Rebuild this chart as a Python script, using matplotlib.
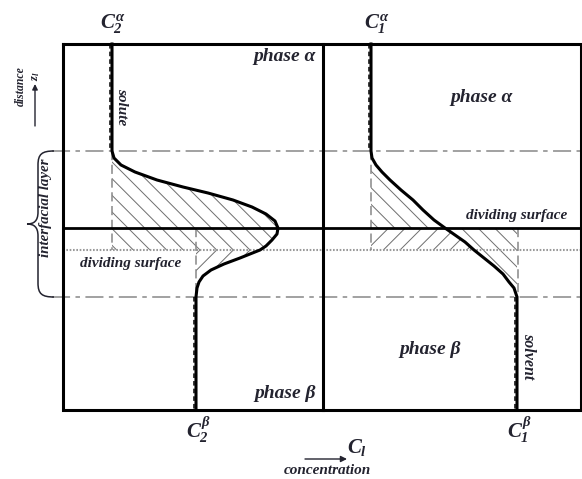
import matplotlib
matplotlib.use('Agg')
import matplotlib.pyplot as plt
from matplotlib.path import Path
from matplotlib.patches import PathPatch

plt.rcParams['mathtext.fontset'] = 'custom'
plt.rcParams['mathtext.it'] = 'Liberation Serif:italic:bold'
plt.rcParams['mathtext.rm'] = 'Liberation Serif:italic:bold'
plt.rcParams['mathtext.bf'] = 'Liberation Serif:italic:bold'
plt.rcParams['mathtext.fallback'] = 'stix'
plt.rcParams['hatch.linewidth'] = 0.7
plt.rcParams['hatch.color'] = '#6e6e6e'

# concentration profiles (depth z, concentration position)
solute_z = [44, 151, 158, 165, 172, 180, 187, 193, 200, 207, 214, 221, 228,
            234, 240, 246, 250, 258, 264, 270, 276, 282, 288, 297, 410]
solute_c = [112, 112, 114, 121, 135, 157, 183, 208, 233, 252, 266, 275, 278,
            277, 272, 266, 260, 240, 224, 211, 203, 199, 197, 196, 196]
solvent_z = [44, 151, 158, 165, 172, 180, 190, 200, 210, 220, 228, 235, 242,
             250, 258, 266, 274, 282, 288, 297, 410]
solvent_c = [371, 371, 372, 376, 382, 390, 401, 413, 423, 434, 445, 455, 465,
             474, 484, 494, 503, 509, 514, 517, 517]

# levels: top of layer, Gibbs surface, dotted surface, bottom of layer
z_top, z_gibbs, z_dot, z_bot = 151, 228, 250, 297
c2_alpha, c2_beta = 112, 196
c1_alpha, c1_beta = 371, 517

ink = '#23232f'

fig = plt.figure(figsize=(5.82, 4.79), dpi=100)
ax = fig.add_axes([0, 0, 1, 1])
ax.set_xlim(0, 582)
ax.set_ylim(479, 0)
ax.axis('off')


def hatch_region(z, c, z0, z1, xv, hatch):
    pts = [(ci, zi) for zi, ci in zip(z, c) if z0 <= zi <= z1]
    poly = pts + [(xv, z1), (xv, z0)]
    ax.fill([p[0] for p in poly], [p[1] for p in poly], facecolor='none',
            edgecolor='#6e6e6e', hatch=hatch, linewidth=0, zorder=1)


# hatched excess areas
hatch_region(solute_z, solute_c, z_top, z_dot, c2_alpha, '\\\\')
hatch_region(solute_z, solute_c, z_dot, z_bot, c2_beta, '//')
hatch_region(solvent_z, solvent_c, z_top, z_gibbs, c1_alpha, '\\\\')
hatch_region(solvent_z, solvent_c, z_gibbs, z_dot, c1_alpha, '//')
hatch_region(solvent_z, solvent_c, z_gibbs, z_bot, c1_beta, '\\\\')

# frame
ax.plot([63, 63, 581, 581, 63], [44, 410, 410, 44, 44], color='black', lw=2.2,
        solid_joinstyle='miter', zorder=5)
ax.plot([323, 323], [44, 410], color='black', lw=2.2, zorder=5)

# horizontal reference lines
for zz in (z_top, z_bot):
    ax.plot([52, 582], [zz, zz], color='#9a9a9a', lw=1.3,
            linestyle=(0, (10, 3, 2.5, 3)), zorder=2)
ax.plot([63, 582], [z_gibbs, z_gibbs], color='black', lw=2.0, zorder=4)
ax.plot([63, 582], [z_dot, z_dot], color='#9a9a9a', lw=1.5,
        linestyle=(0, (0.8, 0.8)), zorder=2)

# dashed reference verticals
for xv, z0, z1 in [(c2_alpha, z_top, z_dot), (c2_beta, z_gibbs, z_bot),
                   (c1_alpha, z_top, z_dot), (c1_beta + 1, z_gibbs, z_bot)]:
    ax.plot([xv, xv], [z0, z1], color='#888888', lw=1.1,
            linestyle=(0, (6, 3)), zorder=2)

# dashed shadows along the bulk segments
for xv, z0, z1 in [(c2_alpha - 2, 44, z_top), (c2_beta - 2, z_bot, 410),
                   (c1_alpha - 2, 44, z_top), (c1_beta - 2, z_bot, 410)]:
    ax.plot([xv, xv], [z0, z1], color='black', lw=1.1,
            linestyle=(0, (3, 2)), zorder=3)

# profiles
ax.plot(solute_c, solute_z, color='black', lw=2.2, zorder=6)
ax.plot(solvent_c, solvent_z, color='black', lw=2.2, zorder=6)

# labels
lab = dict(color=ink, family='Liberation Serif', style='italic', weight='bold')
ax.text(113, 24, r'$C_2^{\alpha}$', fontsize=15, ha='center', va='center', color=ink)
ax.text(377, 24, r'$C_1^{\alpha}$', fontsize=15, ha='center', va='center', color=ink)
ax.text(198, 430, r'$C_2^{\beta}$', fontsize=15, ha='center', va='center', color=ink)
ax.text(519, 430, r'$C_1^{\beta}$', fontsize=15, ha='center', va='center', color=ink)
ax.text(357, 447, r'$C_l$', fontsize=15, ha='center', va='center', color=ink)

ax.text(316, 56, 'phase α', fontsize=14, ha='right', va='center', **lab)
ax.text(316, 393, 'phase β', fontsize=14, ha='right', va='center', **lab)
ax.text(482, 97, 'phase α', fontsize=14, ha='center', va='center', **lab)
ax.text(430, 350, 'phase β', fontsize=14, ha='center', va='center', **lab)

ax.text(131, 263, 'dividing surface', fontsize=11, ha='center', va='center', **lab)
ax.text(517, 216, 'dividing surface', fontsize=11, ha='center', va='center', **lab)
ax.text(122, 107, 'solute', fontsize=11, ha='center', va='center',
        rotation=-90, **lab)
ax.text(528, 356, 'solvent', fontsize=11.5, ha='center', va='center',
        rotation=-90, **lab)
ax.text(327, 471, 'concentration', fontsize=11, ha='center', va='center', **lab)
ax.annotate('', xy=(347, 459), xytext=(305, 459),
            arrowprops=dict(arrowstyle='-|>', color=ink, lw=1.0,
                            mutation_scale=9, shrinkA=0, shrinkB=0))

ax.text(21, 86, 'distance', fontsize=8.5, ha='center', va='center',
        rotation=90, **lab)
ax.text(36, 76, r'$z_l$', fontsize=9, ha='center', va='center', rotation=90,
        color=ink)
ax.annotate('', xy=(35, 84), xytext=(35, 126),
            arrowprops=dict(arrowstyle='-|>', color=ink, lw=1.0,
                            mutation_scale=8, shrinkA=0, shrinkB=0))
ax.text(45, 208, 'interfacial layer', fontsize=10.8, ha='center', va='center',
        rotation=90, **lab)

# curly brace over the interfacial layer
ym = (z_top + z_bot) / 2
verts = [(54, z_top), (42, z_top), (38, z_top + 3), (38, z_top + 14),
         (38, ym - 12),
         (38, ym - 3), (34, ym), (27, ym),
         (34, ym), (38, ym + 3), (38, ym + 12),
         (38, z_bot - 14),
         (38, z_bot - 3), (42, z_bot), (54, z_bot)]
codes = [Path.MOVETO, Path.CURVE4, Path.CURVE4, Path.CURVE4,
         Path.LINETO,
         Path.CURVE4, Path.CURVE4, Path.CURVE4,
         Path.CURVE4, Path.CURVE4, Path.CURVE4,
         Path.LINETO,
         Path.CURVE4, Path.CURVE4, Path.CURVE4]
ax.add_patch(PathPatch(Path(verts, codes), facecolor='none', edgecolor=ink,
                       lw=1.1, zorder=3))

fig.savefig('out.png', dpi=100)
